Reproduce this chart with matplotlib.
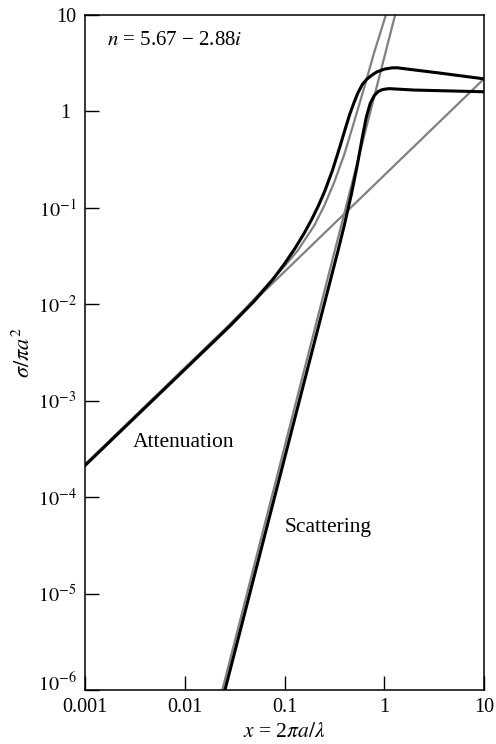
import matplotlib
matplotlib.use("Agg")
import matplotlib.pyplot as plt
import matplotlib.transforms as mtransforms

plt.rcParams["font.family"] = ["Liberation Serif", "DejaVu Serif"]
plt.rcParams["mathtext.fontset"] = "stix"

# -- black curves (Mie result)
att_x = [0.001, 0.0284, 0.0501, 0.0766, 0.1, 0.127, 0.1585, 0.188, 0.2188,
         0.254, 0.302, 0.359, 0.417, 0.452, 0.501, 0.543, 0.603, 0.670,
         0.759, 0.843, 1.014, 1.191, 1.349, 1.811, 3.373, 10.0]
att_y = [2.13e-4, 5.96e-3, 0.01089, 0.0182, 0.0263, 0.0379, 0.0552, 0.0764,
         0.1054, 0.1503, 0.2438, 0.4305, 0.7211, 0.9419, 1.259, 1.549,
         1.905, 2.163, 2.399, 2.570, 2.754, 2.831, 2.838, 2.729, 2.523,
         2.178]

sca_x = [0.0253, 0.1426, 0.3428, 0.398, 0.4677, 0.537, 0.6026, 0.6607,
         0.7244, 0.7943, 0.871, 0.955, 1.072, 1.148, 1.995, 10.0]
sca_y = [1.0e-6, 1.05e-3, 0.0355, 0.0662, 0.1377, 0.2786, 0.537, 0.871,
         1.216, 1.462, 1.611, 1.683, 1.718, 1.722, 1.667, 1.600]

# -- grey small-particle approximations
abs_x = [0.001, 10.0]
abs_y = [2.18e-4, 2.18]

ray_x = [0.0238, 1.285]
ray_y = [1.0e-6, 10.0]

ext_x = [0.001, 0.02512, 0.0398, 0.0631, 0.1, 0.1361, 0.1995, 0.2512,
         0.3162, 0.3981, 0.5012, 0.631, 0.7943, 1.0375]
ext_y = [2.18e-4, 5.48e-3, 8.89e-3, 0.01476, 0.02477, 0.0363, 0.0661,
         0.1059, 0.1862, 0.3597, 0.7943, 1.778, 4.121, 10.0]

xticks = [0.001, 0.01, 0.1, 1, 10]
xlabs  = ["0.001", "0.01", "0.1", "1", "10"]
yticks = [1e-6, 1e-5, 1e-4, 1e-3, 1e-2, 1e-1, 1, 10]
ylabs  = [r"$10^{-6}$", r"$10^{-5}$", r"$10^{-4}$", r"$10^{-3}$",
          r"$10^{-2}$", r"$10^{-1}$", "1", "10"]

fig = plt.figure(figsize=(4.96, 7.44), dpi=100)
ax = fig.add_axes([0.1714, 0.0726, 0.8044, 0.9072])

gray = "#808080"
ax.plot(abs_x, abs_y, color=gray, lw=1.6)
ax.plot(ray_x, ray_y, color=gray, lw=1.6)
ax.plot(ext_x, ext_y, color=gray, lw=1.6)
ax.plot(att_x, att_y, color="k", lw=2.2, solid_joinstyle="round")
ax.plot(sca_x, sca_y, color="k", lw=2.2, solid_joinstyle="round")

ax.set_xscale("log")
ax.set_yscale("log")
ax.set_xlim(0.001, 10)
ax.set_ylim(1e-6, 10)
ax.set_xticks(xticks)
ax.set_xticklabels(xlabs)
ax.set_yticks(yticks)
ax.set_yticklabels(ylabs)
ax.minorticks_off()
ax.tick_params(direction="in", length=10, width=1.0, labelsize=14.5,
               top=False, right=False)
ax.tick_params(axis="x", pad=6)
ax.tick_params(axis="y", pad=6)
for sp in ax.spines.values():
    sp.set_linewidth(1.1)

# -- nudge the bottom y label up (clear of 0.001) and the "1" label left
yt = ax.yaxis.get_major_ticks()
lab = yt[0].label1
lab.set_transform(lab.get_transform() +
                  mtransforms.ScaledTranslation(0, 0.08, fig.dpi_scale_trans))
lab = yt[6].label1
lab.set_transform(lab.get_transform() +
                  mtransforms.ScaledTranslation(-0.06, 0, fig.dpi_scale_trans))

ax.set_xlabel(r"$x$ = 2$\pi a/\lambda$", fontsize=15.5, labelpad=4)
ax.set_ylabel(r"$\sigma/\pi a^2$", fontsize=16, labelpad=2)

ax.text(0.055, 0.956, r"$n$ = 5.67 − 2.88$i$", transform=ax.transAxes,
        fontsize=15, va="baseline")
ax.text(0.120, 0.360, "Attenuation", transform=ax.transAxes,
        fontsize=15.5, va="baseline")
ax.text(0.501, 0.234, "Scattering", transform=ax.transAxes,
        fontsize=15.5, va="baseline")

fig.savefig("out.png", dpi=100)
